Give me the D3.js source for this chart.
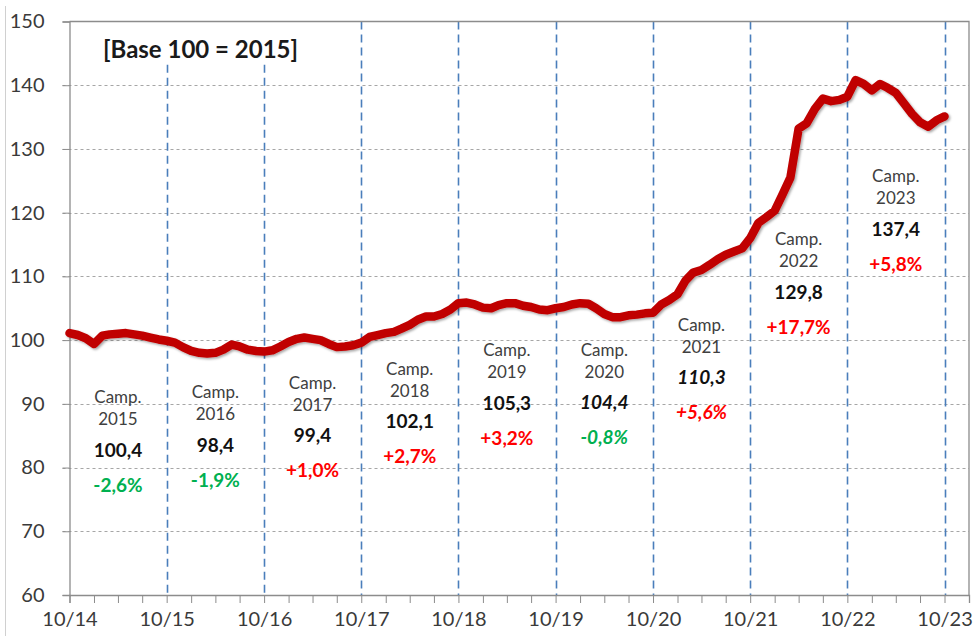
<!DOCTYPE html>
<html>
<head>
<meta charset="utf-8">
<script src="https://cdn.jsdelivr.net/npm/d3@7"></script>
<style>
  body { margin: 0; background: #fff; }
  svg { display: block; font-family: Lato, "Open Sans", sans-serif; }
</style>
</head>
<body>
<svg width="979" height="636"></svg>
<script>
// monthly index, base 100 = 2015, from Oct 2014 to Oct 2023
var startMonth = "2014-10";
var values = [
  101.1, 100.8, 100.3, 99.4, 100.7, 100.9, 101.0, 101.1, 100.9, 100.7, 100.4, 100.1,
  99.9, 99.6, 98.9, 98.3, 98.0, 97.9, 98.0, 98.5, 99.3, 99.0, 98.5, 98.3,
  98.2, 98.4, 99.0, 99.7, 100.2, 100.4, 100.2, 100.0, 99.4, 98.9, 99.0, 99.2,
  99.6, 100.5, 100.8, 101.1, 101.3, 101.8, 102.4, 103.2, 103.7, 103.7, 104.1, 104.8,
  105.8, 105.9, 105.6, 105.1, 105.0, 105.5, 105.8, 105.8, 105.4, 105.2, 104.8, 104.7,
  105.0, 105.2, 105.6, 105.8, 105.7, 105.0, 104.1, 103.6, 103.6, 103.9, 104.0, 104.2,
  104.3, 105.6, 106.3, 107.2, 109.4, 110.6, 111.0, 111.8, 112.7, 113.4, 113.9, 114.4,
  116.0, 118.4, 119.3, 120.3, 123.0, 125.5, 133.2, 134.0, 136.3, 137.9, 137.5, 137.7,
  138.2, 140.8, 140.2, 139.2, 140.2, 139.6, 138.8, 137.2, 135.5, 134.2, 133.5, 134.5,
  135.1
];

// campaign annotations
var campYears   = ["2015", "2016", "2017", "2018", "2019", "2020", "2021", "2022", "2023"];
var campValues  = ["100,4", "98,4", "99,4", "102,1", "105,3", "104,4", "110,3", "129,8", "137,4"];
var campChanges = ["-2,6%", "-1,9%", "+1,0%", "+2,7%", "+3,2%", "-0,8%", "+5,6%", "+17,7%", "+5,8%"];
var campItalic  = [false, false, false, false, false, true, true, false, false];
// where each label block sits, in index units
var campLabelAt = [91.0, 91.8, 93.3, 95.5, 98.4, 98.5, 102.4, 115.8, 125.7];

var yTicks = [60, 70, 80, 90, 100, 110, 120, 130, 140, 150];
var title = "[Base 100 = 2015]";

var svg = d3.select("svg");
var mLeft = 69.5, mRight = 969, mTop = 21.5, mBottom = 595;

var parseMonth = d3.timeParse("%Y-%m");
var t0 = parseMonth(startMonth);
var data = values.map(function (v, i) {
    return { date: d3.timeMonth.offset(t0, i), value: v };
});

var x = d3.scaleTime()
    .domain([t0, d3.timeMonth.offset(t0, 111)])
    .range([mLeft, mRight]);
var y = d3.scaleLinear().domain([60, 150]).range([mBottom, mTop]);

// shadow filter for the line
var defs = svg.append("defs");
var f = defs.append("filter").attr("id", "shadow")
    .attr("x", "-5%").attr("y", "-5%").attr("width", "110%").attr("height", "110%");
f.append("feDropShadow").attr("dx", 1.5).attr("dy", 1.5)
    .attr("stdDeviation", 1.2).attr("flood-color", "#000").attr("flood-opacity", 0.35);

// outer frame line on the far left
svg.append("line")
    .attr("x1", 5.5).attr("x2", 5.5).attr("y1", 6).attr("y2", 636)
    .attr("stroke", "#d0d0d0").attr("stroke-width", 1);

// horizontal grid
svg.append("g")
    .selectAll("line")
    .data(yTicks.filter(function (d) { return d > 60 && d < 150; }))
    .enter().append("line")
    .attr("x1", mLeft - 7).attr("x2", mRight)
    .attr("y1", function (d) { return Math.round(y(d)) + 0.5; })
    .attr("y2", function (d) { return Math.round(y(d)) + 0.5; })
    .attr("stroke", "#a6a6a6")
    .attr("stroke-width", 1.2)
    .attr("stroke-dasharray", "3,3");

// campaign separators (October of each year)
var yearDates = d3.range(1, 10).map(function (k) { return d3.timeMonth.offset(t0, k * 12); });
svg.append("g")
    .selectAll("line")
    .data(yearDates)
    .enter().append("line")
    .attr("x1", function (d) { return Math.round(x(d)) + 0.5; })
    .attr("x2", function (d) { return Math.round(x(d)) + 0.5; })
    .attr("y1", function (d) { return d.getFullYear() < 2017 ? y(143.2) : mTop; })
    .attr("y2", mBottom)
    .attr("stroke", "#4a7ebb")
    .attr("stroke-width", 1.6)
    .attr("stroke-dasharray", "8,5");

// plot frame: top and right
svg.append("path")
    .attr("d", "M" + mLeft + "," + mTop + "H" + mRight + "V" + mBottom)
    .attr("fill", "none")
    .attr("stroke", "#8c8c8c")
    .attr("stroke-width", 1.3);

// y axis
var yAxis = svg.append("g")
    .attr("transform", "translate(" + mLeft + ",0)")
    .call(d3.axisLeft(y).tickValues(yTicks).tickSize(7).tickPadding(18)
        .tickFormat(d3.format("d")));
yAxis.select(".domain").attr("stroke", "#8c8c8c").attr("stroke-width", 1.3);
yAxis.selectAll(".tick line").attr("stroke", "#8c8c8c");
yAxis.selectAll("text")
    .attr("font-size", 20).attr("fill", "#3a3a3a")
    .attr("font-family", "Lato, sans-serif");

// x axis
var xAxis = svg.append("g")
    .attr("transform", "translate(0," + mBottom + ")")
    .call(d3.axisBottom(x)
        .ticks(d3.timeMonth.every(3))
        .tickSize(8)
        .tickPadding(9)
        .tickFormat(function (d) { return d.getMonth() === 9 ? d3.timeFormat("%m/%y")(d) : ""; }));
xAxis.select(".domain").attr("stroke", "#8c8c8c").attr("stroke-width", 1.3);
xAxis.selectAll(".tick line").attr("stroke", "#8c8c8c");
xAxis.selectAll("text")
    .attr("font-size", 20).attr("fill", "#3a3a3a")
    .attr("font-family", "Lato, sans-serif");

// title
svg.append("text")
    .attr("x", 103).attr("y", 58)
    .attr("font-size", 24).attr("font-weight", "bold")
    .attr("fill", "#1a1a1a")
    .text(title);

// index line
var line = d3.line()
    .x(function (d) { return x(d.date); })
    .y(function (d) { return y(d.value); });

svg.append("path")
    .datum(data)
    .attr("d", line)
    .attr("fill", "none")
    .attr("stroke", "#c00000")
    .attr("stroke-width", 8.5)
    .attr("stroke-linejoin", "round")
    .attr("stroke-linecap", "round")
    .attr("filter", "url(#shadow)");

// campaign labels
var labels = svg.append("g")
    .selectAll("g")
    .data(campYears)
    .enter().append("g")
    .attr("transform", function (d, i) {
        var mid = d3.timeMonth.offset(t0, i * 12 + 6);
        return "translate(" + x(mid) + "," + y(campLabelAt[i]) + ")";
    })
    .attr("text-anchor", "middle");

labels.append("text")
    .attr("y", 0).attr("dy", "0.35em")
    .attr("font-size", 17).attr("fill", "#404040")
    .text("Camp.");
labels.append("text")
    .attr("y", 22).attr("dy", "0.35em")
    .attr("font-size", 17).attr("fill", "#404040")
    .text(function (d) { return d; });
labels.append("text")
    .attr("y", 53).attr("dy", "0.35em")
    .attr("font-size", 19).attr("font-weight", "bold").attr("fill", "#111")
    .attr("font-style", function (d, i) { return campItalic[i] ? "italic" : "normal"; })
    .text(function (d, i) { return campValues[i]; });
labels.append("text")
    .attr("y", 88).attr("dy", "0.35em")
    .attr("font-size", 19).attr("font-weight", "bold")
    .attr("fill", function (d, i) { return campChanges[i].charAt(0) === "-" ? "#00b050" : "#ff0000"; })
    .attr("font-style", function (d, i) { return campItalic[i] ? "italic" : "normal"; })
    .text(function (d, i) { return campChanges[i]; });
</script>
</body>
</html>
